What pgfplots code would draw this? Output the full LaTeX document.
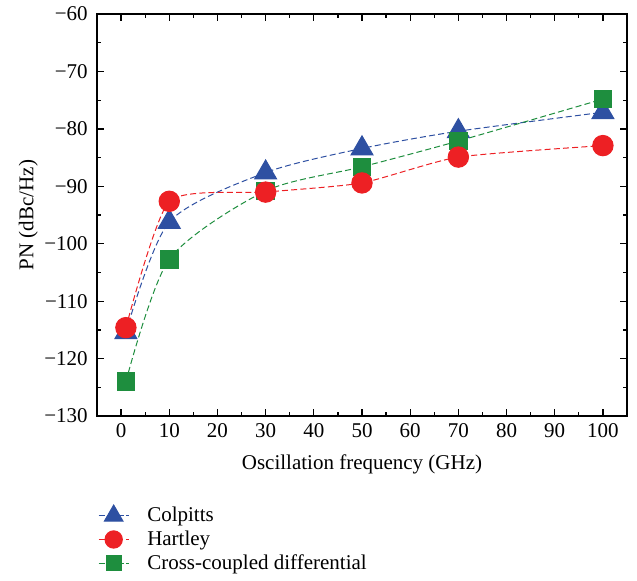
\documentclass[border=0pt]{standalone}
\usepackage{fontspec}
\setmainfont{Liberation Serif}
\usepackage{pgfplots}
\pgfplotsset{compat=1.18}
\definecolor{cblue}{RGB}{46,80,162}
\definecolor{cred}{RGB}{237,32,36}
\definecolor{cgreen}{RGB}{30,142,62}
\begin{document}
\fontsize{10.5}{12.5}\selectfont
\begin{tikzpicture}
\begin{axis}[
  scale only axis,
  width=265pt, height=201pt,
  xmin=-5, xmax=105, ymin=-130, ymax=-60,
  xtick={0,10,...,100}, minor xtick={5,15,...,95},
  ytick={-130,-120,...,-60}, minor ytick={-125,-115,...,-65},
  yticklabels={−130,−120,−110,−100,−90,−80,−70,−60},
  tick align=inside,
  major tick length=3.5pt, minor tick length=2pt,
  axis line style={line width=0.8pt},
  every tick/.style={black, line width=0.6pt},
  /pgf/number format/assume math mode=true,
  ticklabel style={font=\fontsize{10.5}{12.5}\selectfont},
  yticklabel style={xshift=-1pt},
  label style={font=\fontsize{10.5}{12.5}\selectfont},
  xlabel={Oscillation frequency (GHz)},
  xlabel style={yshift=-1.5pt},
  ylabel={PN (dBc/Hz)},
  ylabel style={yshift=-4pt},
  legend style={draw=none, fill=none, at={(-0.01,-0.205)}, anchor=north west,
    font=\fontsize{10.5}{11.5}\selectfont, row sep=-1pt,
    legend cell align=left},
  legend image code/.code={
    \draw[mark repeat=2,mark phase=2, every mark/.append style={scale=0.85}]
      plot coordinates {(0cm,0cm) (0.265cm,0cm) (0.53cm,0cm)};
    \path (0.53cm+7pt,0cm);},
]
\addplot[cblue, line width=0.5pt, dash pattern=on 3pt off 1.6pt, smooth, tension=0.45,
  mark=triangle*, mark size=6.3pt, mark options={solid, fill=cblue, draw=cblue}]
  coordinates {(1,-115.4) (10,-96.2) (30,-87.6) (50,-83.4) (70,-80.4) (100,-77.1)};
\addlegendentry{Colpitts}
\addlegendimage{cred, line width=0.5pt, dash pattern=on 3pt off 1.6pt,
  mark=*, mark size=5.1pt, mark options={solid, fill=cred, draw=cred}}
\addlegendentry{Hartley}
\addplot[cgreen, line width=0.5pt, dash pattern=on 3pt off 1.6pt, smooth, tension=0.45,
  mark=square*, mark size=4.4pt, mark options={solid, fill=cgreen, draw=cgreen}]
  coordinates {(1,-124.0) (10,-102.7) (30,-90.8) (50,-86.6) (70,-82.1) (100,-74.8)};
\addlegendentry{Cross-coupled differential}
\addplot[cred, line width=0.5pt, dash pattern=on 3pt off 1.6pt, smooth, tension=0.35,
  mark=*, mark size=5.1pt, mark options={solid, fill=cred, draw=cred}, forget plot]
  coordinates {(1,-114.6) (10,-92.6) (30,-91.0) (50,-89.4) (70,-84.9) (100,-82.9)};
\end{axis}
\path ([xshift=5pt]current axis.east);
\path ([xshift=-48.5pt]current axis.west);
\end{tikzpicture}
\end{document}
